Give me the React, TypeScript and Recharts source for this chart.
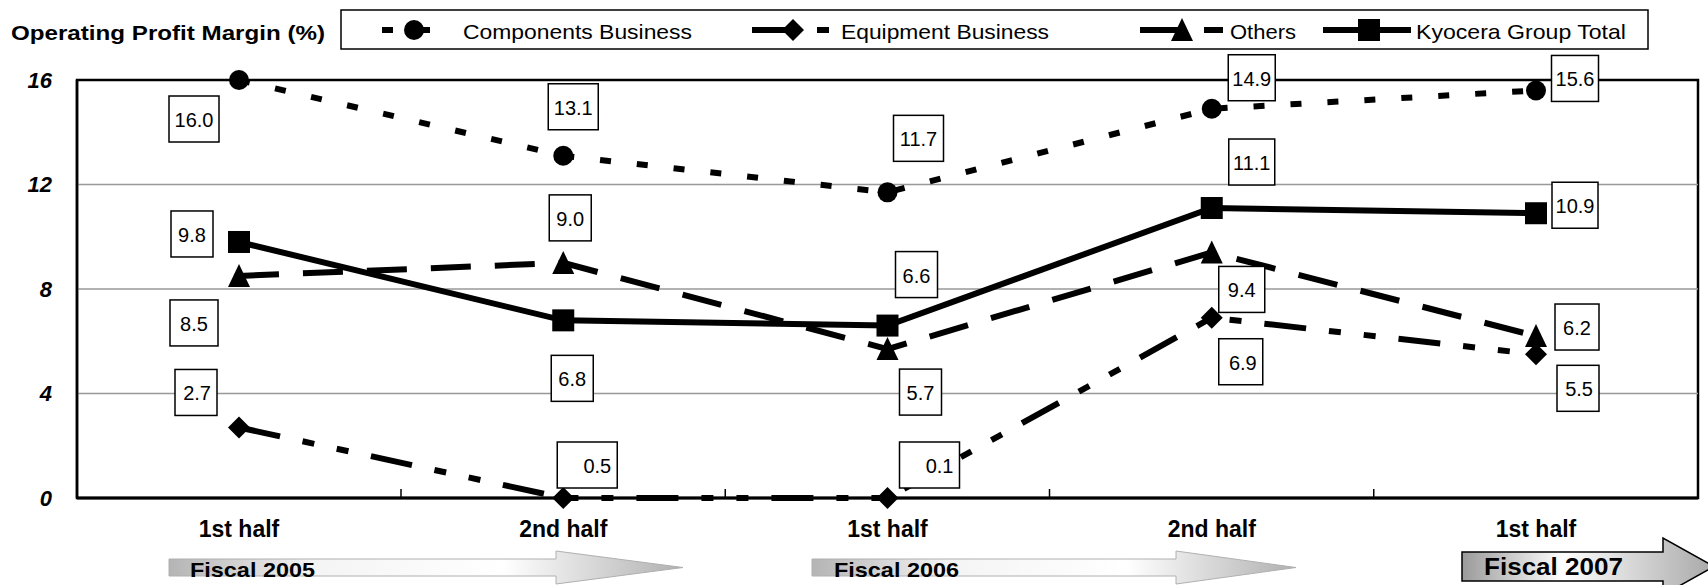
import React from 'react';
import { LineChart, Line, XAxis, YAxis, CartesianGrid, LabelList } from 'recharts';

const periods = ['FY2005 H1', 'FY2005 H2', 'FY2006 H1', 'FY2006 H2', 'FY2007 H1'];
const halfLabels = ['1st half', '2nd half', '1st half', '2nd half', '1st half'];
const fiscalYears = ['Fiscal 2005', 'Fiscal 2006', 'Fiscal 2007'];
const yTicks = [0, 4, 8, 12, 16];
const gridValues = [4, 8, 12];

const components = [16.0, 13.1, 11.7, 14.9, 15.6];
const equipment = [2.7, 0, 0, 6.9, 5.5];
const others = [8.5, 9.0, 5.7, 9.4, 6.2];
const groupTotal = [9.8, 6.8, 6.6, 11.1, 10.9];

const componentsText = ['16.0', '13.1', '11.7', '14.9', '15.6'];
const equipmentText = ['2.7', '0.5', '0.1', '6.9', '5.5'];
const othersText = ['8.5', '9.0', '5.7', '9.4', '6.2'];
const totalText = ['9.8', '6.8', '6.6', '11.1', '10.9'];

const data = periods.map((p, i) => ({
  period: p,
  components: components[i],
  equipment: equipment[i],
  others: others[i],
  total: groupTotal[i],
}));

// label box placement: [dx, dy, width] from the point
const componentsBox = [[-45, 39, 50], [10, -49, 50], [31, -54, 50], [40, -31, 47], [39, -12, 47]];
const equipmentBox = [[-43, -35, 42], [24, -33, 60], [42, -33, 60], [29, 44, 44], [42, 34, 42]];
const othersBox = [[-45, 47, 48], [7, -45, 42], [33, 43, 42], [30, 37, 46], [41, -9, 44]];
const totalBox = [[-47, -8, 42], [9, 58, 42], [29, -51, 42], [40, -46, 46], [39, -8, 46]];

const FONT = '"Liberation Sans", Arial, sans-serif';
const W = 1708;
const H = 585;
const MARGIN = { top: 80, right: 10, bottom: 47, left: 17 };
const Y_AXIS_W = 60;
const X_AXIS_H = 40;
const HALF_BAND = 162;

const series = [
  { key: 'components', name: 'Components Business', dash: '11 26', legendOffset: -8, shape: 'circle' },
  { key: 'equipment', name: 'Equipment Business', dash: '42 23 12 23 12 23', legendOffset: 0, shape: 'diamond' },
  { key: 'others', name: 'Others', dash: '40 24', legendOffset: 0, shape: 'triangle' },
  { key: 'total', name: 'Kyocera Group Total', dash: undefined, legendOffset: 0, shape: 'square' },
];

const legendPos = [
  { x1: 374, x2: 452, mx: 414, tx: 463, tl: 229 },
  { x1: 752, x2: 833, mx: 793, tx: 841, tl: 208 },
  { x1: 1140, x2: 1223, mx: 1182, tx: 1230, tl: 66 },
  { x1: 1323, x2: 1411, mx: 1369, tx: 1416, tl: 210 },
];

const Marker = ({ shape, cx, cy }: { shape: string; cx: number; cy: number }) => {
  if (shape === 'circle') return <circle cx={cx} cy={cy} r={10} fill="#000" />;
  if (shape === 'diamond')
    return <polygon points={`${cx},${cy - 11} ${cx + 11},${cy} ${cx},${cy + 11} ${cx - 11},${cy}`} fill="#000" />;
  if (shape === 'triangle')
    return <polygon points={`${cx},${cy - 12} ${cx + 11},${cy + 11} ${cx - 11},${cy + 11}`} fill="#000" />;
  return <rect x={cx - 11} y={cy - 11} width={22} height={22} fill="#000" />;
};

const boxLabel = (texts: string[], layout: number[][], rightAlign = false) => (props: any) => {
  const { index } = props;
  const x = props.viewBox?.x ?? props.x;
  const y = props.viewBox?.y ?? props.y;
  if (x == null || y == null) return null;
  const [dx, dy, w] = layout[index];
  const cx = x + dx;
  const cy = y + dy;
  const h = 46;
  return (
    <g key={`lbl-${index}`}>
      <rect x={cx - w / 2} y={cy - h / 2} width={w} height={h} fill="#fff" stroke="#000" strokeWidth={1.5} />
      <text
        x={rightAlign ? cx + w / 2 - 6 : cx}
        y={cy + 1}
        textAnchor={rightAlign ? 'end' : 'middle'}
        dominantBaseline="central"
        fontSize={20}
        fontFamily={FONT}
        fill="#000"
      >
        {texts[index]}
      </text>
    </g>
  );
};

const HalfTick = (props: any) => {
  const { x, y, index } = props;
  return (
    <g>
      {index < halfLabels.length - 1 && (
        <line x1={x + HALF_BAND} x2={x + HALF_BAND} y1={y} y2={y - 9} stroke="#000" strokeWidth={1.5} />
      )}
      <text x={x} y={y + 31} textAnchor="middle" dominantBaseline="central" fontSize={23} fontWeight="bold" fontFamily={FONT} fill="#000">
        {halfLabels[index]}
      </text>
    </g>
  );
};

const PctTick = (props: any) => {
  const { x, y, payload } = props;
  return (
    <text x={x - 25} y={y} textAnchor="end" dominantBaseline="central" fontSize={22} fontWeight="bold" fontStyle="italic" fontFamily={FONT} fill="#000">
      {payload.value}
    </text>
  );
};

const arrowPath = (x0: number, xh: number, xt: number, yb0: number, yb1: number, yh0: number, yh1: number) =>
  `M${x0},${yb0} L${xh},${yb0} L${xh},${yh0} L${xt},${(yb0 + yb1) / 2} L${xh},${yh1} L${xh},${yb1} L${x0},${yb1} Z`;

// plot frame sits under the chart so the label boxes can cover it
const Frame = () => {
  const left = MARGIN.left + Y_AXIS_W;
  const top = MARGIN.top;
  const right = W - MARGIN.right;
  const bottom = H - MARGIN.bottom - X_AXIS_H;
  return (
    <svg width={W} height={H} style={{ position: 'absolute', left: 0, top: 0 }}>
      <rect x={left} y={top} width={right - left} height={bottom - top} fill="#fff" stroke="#000" strokeWidth={2.5} />
    </svg>
  );
};

const Overlay = () => (
  <svg width={W} height={H} style={{ position: 'absolute', left: 0, top: 0, pointerEvents: 'none' }}>
    <defs>
      <linearGradient id="fadeArrow" x1="0" x2="1" y1="0" y2="0">
        <stop offset="0%" stopColor="#b4b4b4" />
        <stop offset="28%" stopColor="#f4f4f4" />
        <stop offset="65%" stopColor="#ffffff" />
        <stop offset="100%" stopColor="#b0b0b0" />
      </linearGradient>
      <linearGradient id="boldArrow" x1="0" x2="1" y1="0" y2="0">
        <stop offset="0%" stopColor="#9a9a9a" />
        <stop offset="40%" stopColor="#ffffff" />
        <stop offset="100%" stopColor="#a8a8a8" />
      </linearGradient>
    </defs>
    <text x={11} y={32} dominantBaseline="central" fontSize={21} fontWeight="bold" fontFamily={FONT} textLength={314} lengthAdjust="spacingAndGlyphs">
      Operating Profit Margin (%)
    </text>
    <rect x={341} y={10} width={1307} height={39} fill="#fff" stroke="#000" strokeWidth={1.5} />
    {series.map((s, i) => {
      const p = legendPos[i];
      return (
        <g key={s.key}>
          <line x1={p.x1} x2={p.x2} y1={30} y2={30} stroke="#000" strokeWidth={6} strokeDasharray={s.dash} strokeDashoffset={s.legendOffset} />
          <Marker shape={s.shape} cx={p.mx} cy={30} />
          <text x={p.tx} y={31} dominantBaseline="central" fontSize={21} fontFamily={FONT} textLength={p.tl} lengthAdjust="spacingAndGlyphs">
            {s.name}
          </text>
        </g>
      );
    })}
    <path d={arrowPath(169, 556, 683, 559, 576, 551, 584)} fill="url(#fadeArrow)" stroke="#b0b0b0" strokeWidth={1} />
    <text x={190} y={569} dominantBaseline="central" fontSize={21} fontWeight="bold" fontFamily={FONT} textLength={125} lengthAdjust="spacingAndGlyphs">
      {fiscalYears[0]}
    </text>
    <path d={arrowPath(812, 1176, 1296, 559, 576, 551, 584)} fill="url(#fadeArrow)" stroke="#b0b0b0" strokeWidth={1} />
    <text x={834} y={569} dominantBaseline="central" fontSize={21} fontWeight="bold" fontFamily={FONT} textLength={125} lengthAdjust="spacingAndGlyphs">
      {fiscalYears[1]}
    </text>
    <path d={arrowPath(1462, 1663, 1714, 552, 581, 538, 595)} fill="url(#boldArrow)" stroke="#000" strokeWidth={1.5} />
    <text x={1484} y={567} dominantBaseline="central" fontSize={23} fontWeight="bold" fontFamily={FONT} textLength={139} lengthAdjust="spacingAndGlyphs">
      {fiscalYears[2]}
    </text>
  </svg>
);

export default function App() {
  return (
    <div style={{ position: 'absolute', left: 0, top: 0, width: W, height: H, background: '#fff', fontFamily: FONT }}>
      <Frame />
      <div style={{ position: 'absolute', left: 0, top: 0 }}>
        <LineChart width={W} height={H} data={data} margin={MARGIN}>
          <CartesianGrid vertical={false} horizontalValues={gridValues} stroke="#999" strokeWidth={1.5} />
          <XAxis
            dataKey="period"
            tick={<HalfTick />}
            tickLine={false}
            tickSize={0}
            tickMargin={0}
            interval={0}
            height={X_AXIS_H}
            padding={{ left: HALF_BAND, right: HALF_BAND }}
            axisLine={{ stroke: '#000', strokeWidth: 3 }}
          />
          <YAxis
            domain={[0, 16]}
            ticks={yTicks}
            tick={<PctTick />}
            tickLine={false}
            tickSize={0}
            tickMargin={0}
            width={Y_AXIS_W}
            axisLine={{ stroke: '#000', strokeWidth: 2.5 }}
          />
          {series.map((s, si) => {
            const texts = [componentsText, equipmentText, othersText, totalText][si];
            const layout = [componentsBox, equipmentBox, othersBox, totalBox][si];
            return (
              <Line
                key={s.key}
                dataKey={s.key}
                name={s.name}
                type="linear"
                stroke="#000"
                strokeWidth={6}
                strokeDasharray={s.dash}
                dot={(p: any) => <Marker key={`${s.key}-${p.index}`} shape={s.shape} cx={p.cx} cy={p.cy} />}
                activeDot={false}
                isAnimationActive={false}
              >
                <LabelList dataKey={s.key} content={boxLabel(texts, layout, s.key === 'equipment')} />
              </Line>
            );
          })}
        </LineChart>
      </div>
      <Overlay />
    </div>
  );
}
